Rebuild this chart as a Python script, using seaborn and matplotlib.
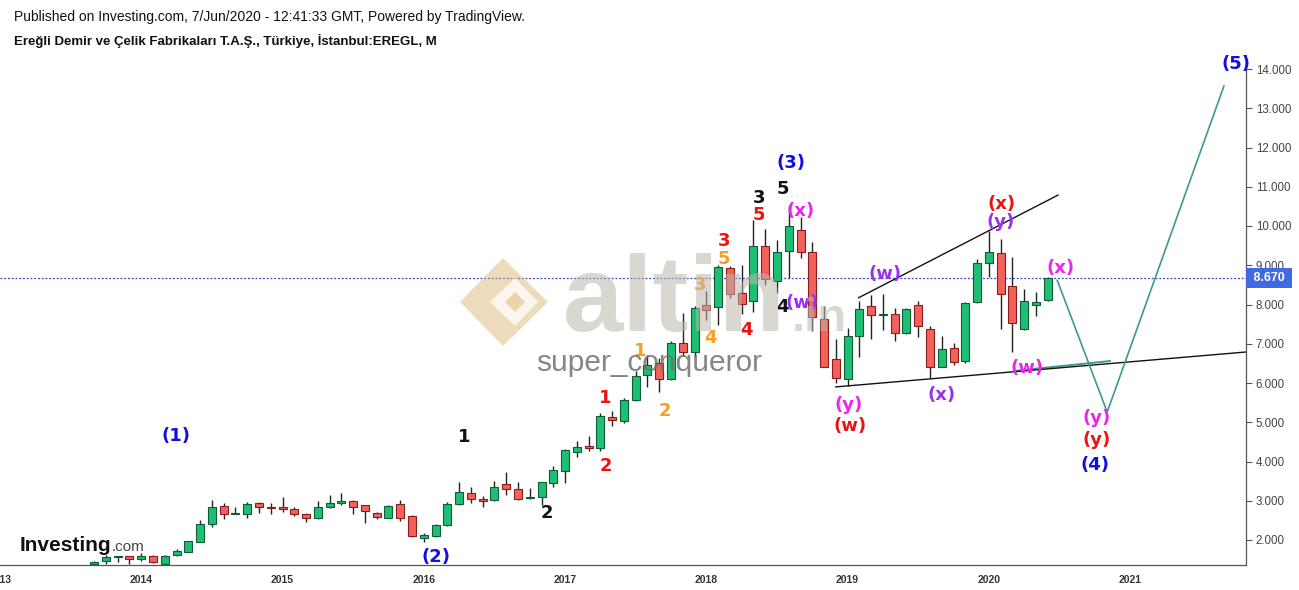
import numpy as np
import pandas as pd
import matplotlib
matplotlib.use("Agg")
import matplotlib.pyplot as plt
import matplotlib.transforms as mtransforms
from matplotlib.patches import Polygon
import seaborn as sns

# ---------------- data (monthly candles, Sep 2013 .. Jun 2020) ----------------
months = pd.period_range("2013-09", "2020-06", freq="M").astype(str).tolist()
opens = [1.38, 1.47, 1.56, 1.58,
         1.51, 1.59, 1.38, 1.61, 1.70, 1.96, 2.40, 2.87, 2.66, 2.66, 2.94, 2.82,
         2.84, 2.78, 2.66, 2.55, 2.83, 2.94, 3.00, 2.89, 2.70, 2.57, 2.91, 2.60,
         2.06, 2.10, 2.38, 2.91, 3.19, 3.04, 3.02, 3.43, 3.29, 3.06, 3.09, 3.46,
         3.77, 4.25, 4.40, 4.35, 5.13, 5.04, 5.57, 6.20, 6.50, 6.10, 7.01, 6.80,
         7.99, 7.93, 8.92, 8.29, 8.08, 9.50, 8.60, 9.36, 9.90, 9.35, 7.62, 6.60,
         6.09, 7.20, 7.96, 7.74, 7.75, 7.27, 7.99, 7.38, 6.42, 6.88, 6.57, 8.07,
         9.05, 9.31, 8.48, 7.37, 7.99, 8.11]
highs = [1.47, 1.62, 1.59, 1.60,
         1.67, 1.63, 1.62, 1.76, 1.98, 2.51, 3.02, 2.95, 2.83, 2.98, 2.97, 2.93,
         3.09, 2.83, 2.69, 3.00, 3.15, 3.19, 3.02, 2.90, 2.71, 2.90, 3.02, 2.64,
         2.17, 2.40, 2.98, 3.48, 3.35, 3.13, 3.51, 3.73, 3.49, 3.32, 3.48, 3.89,
         4.33, 4.51, 4.65, 5.23, 5.29, 5.63, 6.31, 6.71, 6.63, 7.08, 7.78, 7.95,
         8.34, 9.01, 8.98, 9.01, 10.15, 9.92, 9.64, 10.54, 10.24, 9.58, 7.95, 7.12,
         7.39, 8.10, 8.24, 8.27, 7.92, 7.92, 8.10, 7.45, 7.20, 7.03, 8.07, 9.16,
         9.86, 9.66, 9.20, 8.39, 8.31, 8.70]
lows = [1.35, 1.40, 1.45, 1.38,
        1.47, 1.42, 1.36, 1.58, 1.69, 1.95, 2.34, 2.53, 2.65, 2.57, 2.68, 2.66,
        2.72, 2.60, 2.45, 2.54, 2.82, 2.89, 2.66, 2.44, 2.53, 2.55, 2.49, 2.08,
        1.96, 2.08, 2.36, 2.90, 2.94, 2.83, 3.00, 3.15, 3.03, 3.05, 2.89, 3.36,
        3.45, 4.12, 4.28, 4.28, 4.90, 4.98, 5.55, 5.91, 5.76, 6.08, 6.69, 6.67,
        7.61, 7.48, 8.16, 7.76, 7.82, 8.50, 8.30, 8.67, 9.19, 7.33, 6.40, 5.99,
        5.92, 6.67, 7.11, 7.35, 7.07, 7.26, 7.16, 6.12, 6.40, 6.46, 6.50, 8.03,
        8.71, 7.37, 6.80, 7.36, 7.71, 8.10]
closes = [1.45, 1.56, 1.58, 1.51,
          1.58, 1.44, 1.60, 1.71, 1.97, 2.41, 2.85, 2.66, 2.67, 2.91, 2.84, 2.81,
          2.78, 2.66, 2.55, 2.83, 2.94, 3.00, 2.85, 2.74, 2.58, 2.86, 2.57, 2.09,
          2.12, 2.37, 2.91, 3.22, 3.04, 2.99, 3.34, 3.29, 3.04, 3.07, 3.47, 3.78,
          4.29, 4.36, 4.34, 5.16, 5.06, 5.57, 6.18, 6.46, 6.10, 7.01, 6.79, 7.92,
          7.86, 8.95, 8.26, 8.01, 9.50, 8.64, 9.33, 10.01, 9.33, 7.69, 6.42, 6.12,
          7.20, 7.88, 7.73, 7.75, 7.27, 7.89, 7.44, 6.42, 6.86, 6.54, 8.03, 9.05,
          9.33, 8.27, 7.52, 8.10, 8.06, 8.67]
last_price = 8.670

year_labels = ["2013", "2014", "2015", "2016", "2017", "2018", "2019", "2020", "2021"]
price_ticks = [2, 3, 4, 5, 6, 7, 8, 9, 10, 11, 12, 13, 14]

# Elliott wave labels: (text, colour name, month index from Jan 2014, price)
wave_text = ["(1)", "(2)", "1", "2", "1", "2", "1", "2", "3", "4", "5", "3", "4", "5",
             "3", "5", "(3)", "(x)", "4", "(w)", "(y)", "(w)", "(w)", "(x)", "(x)", "(y)",
             "(x)", "(w)", "(y)", "(y)", "(4)", "(5)"]
wave_color = ["blue", "blue", "black", "black", "red", "red", "orange", "orange", "orange",
              "orange", "orange", "red", "red", "red", "black", "black", "blue", "magenta",
              "black", "purple", "magenta", "red", "purple", "purple", "red", "purple",
              "magenta", "magenta", "magenta", "red", "blue", "blue"]
wave_x = [2.97, 25.03, 27.4, 34.45, 39.37, 39.45, 42.42, 44.46, 47.43, 48.36, 49.47, 49.47,
          51.42, 52.44, 52.44, 54.47, 55.15, 56.0, 54.47, 56.1, 60.07, 60.24, 63.21, 67.96,
          73.05, 72.97, 78.06, 75.26, 81.11, 81.11, 81.03, 93.0]
wave_y = [4.65, 1.57, 4.62, 2.69, 5.62, 3.89, 6.82, 5.29, 8.50, 7.15, 9.16, 9.62,
          7.35, 10.28, 10.71, 10.94, 11.61, 10.38, 7.94, 8.04, 5.44, 4.90, 8.78, 5.69,
          10.56, 10.10, 8.93, 6.38, 5.11, 4.55, 3.91, 14.13]

# drawn lines (month index, price)
upper_line_x = [60.92, 77.89]
upper_line_y = [8.17, 10.79]
lower_line_x = [58.97, 93.84]
lower_line_y = [5.90, 6.79]
path_x = [77.80, 82.05, 91.97]
path_y = [8.62, 5.26, 13.57]
short_x = [74.24, 82.3]
short_y = [6.31, 6.56]

palette = {"blue": "#1010e0", "black": "#111111", "red": "#ee1111",
           "orange": "#f4a020", "magenta": "#ee22ee", "purple": "#9b30f0"}

# ---------------- figure ----------------
sns.set_theme(style="white")
plt.rcParams["font.family"] = ["Liberation Sans", "DejaVu Sans"]

W, H = 1299, 590
fig = plt.figure(figsize=(W / 100, H / 100), dpi=100)
ax = fig.add_axes([0 / W, 1 - 565 / H, 1246 / W, (565 - 55) / H])

df = pd.DataFrame({"month": months, "open": opens, "high": highs, "low": lows, "close": closes})
start = pd.Period("2014-01", freq="M")
df["x"] = [(pd.Period(m, freq="M") - start).n for m in df["month"]]
df["up"] = df["close"] >= df["open"]

up_fill, up_edge = "#1fbf73", "#0c5c36"
dn_fill, dn_edge = "#f2625b", "#8c1c1c"

ax.vlines(df["x"], df["low"], df["high"], color="#222222", lw=1.0, zorder=2)
bottoms = np.minimum(df["open"], df["close"])
heights = np.maximum(np.abs(df["close"] - df["open"]), 0.025)
ax.bar(df["x"], heights, bottom=bottoms, width=0.68,
       color=np.where(df["up"], up_fill, dn_fill),
       edgecolor=np.where(df["up"], up_edge, dn_edge), linewidth=0.8, zorder=3)

# trend lines via seaborn
sns.lineplot(x=short_x, y=short_y, ax=ax, color="#3d9a88", lw=1.4, zorder=4)
sns.lineplot(x=upper_line_x, y=upper_line_y, ax=ax, color="#111111", lw=1.0, zorder=4)
sns.lineplot(x=lower_line_x, y=lower_line_y, ax=ax, color="#111111", lw=1.0, zorder=4)
sns.lineplot(x=path_x, y=path_y, ax=ax, color="#3d9a88", lw=1.2, zorder=4, sort=False)

# last price line
ax.axhline(last_price, color="#3344cc", lw=0.9, ls=(0, (1.5, 1.5)), zorder=1)

# wave labels
for t, c, x, y in zip(wave_text, wave_color, wave_x, wave_y):
    ax.text(x, y, t, color=palette[c], fontsize=13, fontweight="bold",
            family=["DejaVu Sans"], ha="center", va="center", zorder=6)

# axes limits / ticks
px_per_month = 11.786
ax.set_xlim(-140 / px_per_month, (1246 - 140) / px_per_month)
ax.set_ylim(14 - (565 - 69) / 39.25, 14 + (69 - 55) / 39.25)
ax.set_xticks([12 * (int(y) - 2014) for y in year_labels])
ax.set_xticklabels(year_labels, fontsize=7.5, color="#333333", fontweight="bold")
ax.set_yticks(price_ticks)
ax.set_yticklabels([f"{v:.3f}" for v in price_ticks], fontsize=8.3, color="#444444")
ax.yaxis.tick_right()
ax.tick_params(axis="y", direction="out", length=4, width=0.8, color="#555555", pad=3)
ax.tick_params(axis="x", direction="out", length=4, width=0.8, color="#555555", pad=3)
for s in ["left", "top"]:
    ax.spines[s].set_visible(False)
for s in ["right", "bottom"]:
    ax.spines[s].set_color("#555555")
    ax.spines[s].set_linewidth(0.9)
ax.grid(False)
ax.set_xlabel("")
ax.set_ylabel("")
if ax.get_legend():
    ax.get_legend().remove()

# last price box
trans = mtransforms.blended_transform_factory(ax.transAxes, ax.transData)
ax.text(1.003, last_price, " 8.670 ", transform=trans, ha="left", va="center",
        fontsize=9, color="white", fontweight="bold", clip_on=False,
        bbox=dict(boxstyle="square,pad=0.3", facecolor="#4169e1", edgecolor="none"), zorder=7)

# ---------------- watermark (drawn on top, semi-transparent) ----------------
def fxy(px, py):
    return (px / W, 1 - py / H)

gold = "#d9b36a"
outer = [fxy(460, 302), fxy(503, 258), fxy(548, 302), fxy(503, 346)]
fig.patches.append(Polygon(outer, closed=True, transform=fig.transFigure,
                           facecolor=gold, alpha=0.45, edgecolor="none", zorder=8))
inner = [fxy(490, 302), fxy(515, 278), fxy(538, 302), fxy(515, 326)]
fig.patches.append(Polygon(inner, closed=True, transform=fig.transFigure,
                           facecolor="white", alpha=0.75, edgecolor="none", zorder=8))
core = [fxy(505, 302), fxy(515, 292), fxy(525, 302), fxy(515, 312)]
fig.patches.append(Polygon(core, closed=True, transform=fig.transFigure,
                           facecolor=gold, alpha=0.5, edgecolor="none", zorder=8))

fig.text(563 / W, 1 - 331 / H, "altin", fontsize=78, fontweight="bold",
         color="#bdb7ab", alpha=0.55, ha="left", va="baseline", zorder=9)
fig.text(792 / W, 1 - 331 / H, ".in", fontsize=34, fontweight="bold",
         color="#bdb7ab", alpha=0.55, ha="left", va="baseline", zorder=9)
fig.text(649 / W, 1 - 363 / H, "super_conqueror", fontsize=21.5,
         color="#707070", alpha=0.85, ha="center", va="center", zorder=9)

# ---------------- header & logo ----------------
fig.text(14 / W, 1 - 17 / H, "Published on Investing.com, 7/Jun/2020 - 12:41:33 GMT, Powered by TradingView.",
         fontsize=10, color="#111111", ha="left", va="center")
fig.text(14 / W, 1 - 41 / H, "Ereğli Demir ve Çelik Fabrikaları T.A.Ş., Türkiye, İstanbul:EREGL, M",
         fontsize=9.5, color="#111111", fontweight="bold", ha="left", va="center")
fig.text(20 / W, 1 - 551 / H, "Investing", fontsize=15, fontweight="bold",
         color="#111111", ha="left", va="baseline", zorder=9)
fig.text(112 / W, 1 - 551 / H, ".com", fontsize=11, color="#444444",
         ha="left", va="baseline", zorder=9)

fig.savefig("out.png", dpi=100)
